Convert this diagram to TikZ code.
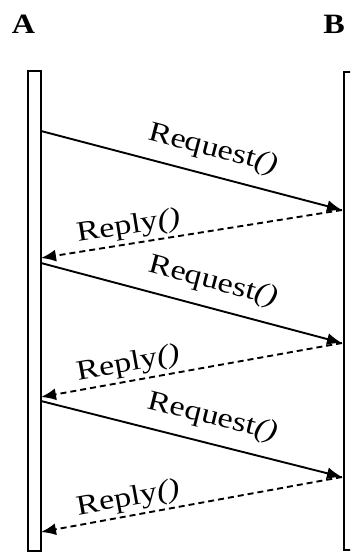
\documentclass[tikz,border=0pt]{standalone}
\usepackage{fontspec}
\setmainfont{Liberation Serif}
\usetikzlibrary{arrows.meta}
\begin{document}
\begin{tikzpicture}[x=1pt,y=-1pt,
  bar/.style={draw=black,line width=2pt,fill=white},
  req/.style={line width=1.9pt,-{Latex[length=15pt,width=12pt]}},
  rep/.style={line width=1.9pt,dash pattern=on 6pt off 4pt,-{Latex[length=15pt,width=12pt]}},
  lbl/.style={sloped,font=\fontsize{28}{28}\selectfont,xscale=1.22,inner sep=0pt},
  head/.style={font=\fontsize{28}{28}\selectfont\bfseries,xscale=1.15}]
\useasboundingbox (0,0) rectangle (350,553);
\clip (0,0) rectangle (350,553);
\node[head] (A) at (23.5,24) {A};
\node[head] (B) at (334,24) {B};
\node[bar,minimum width=13pt,minimum height=480pt,inner sep=0pt] (barA) at (34.5,311) {};
\node[bar,minimum width=13pt,minimum height=478pt,inner sep=0pt,anchor=north west] (barB) at (342.5,71) {};
\coordinate (a1) at (41,131);
\coordinate (b1) at (342,210);
\coordinate (a2) at (41,258);
\coordinate (a3) at (41,263);
\coordinate (b2) at (342,343);
\coordinate (a4) at (41,397);
\coordinate (a5) at (41,401);
\coordinate (b3) at (342,477);
\coordinate (a6) at (41,532);
\draw[req] (a1) -- node[lbl,pos=0.55,above=12pt] {Request\textit{()}} (b1);
\draw[rep] (b1) -- node[lbl,pos=0.70,above=3pt] {Reply\textit{()}} (a2);
\draw[req] (a3) -- node[lbl,pos=0.55,above=12pt] {Request\textit{()}} (b2);
\draw[rep] (b2) -- node[lbl,pos=0.70,above=3pt] {Reply\textit{()}} (a4);
\draw[req] (a5) -- node[lbl,pos=0.55,above=12pt] {Request\textit{()}} (b3);
\draw[rep] (b3) -- node[lbl,pos=0.70,above=3pt] {Reply\textit{()}} (a6);
\end{tikzpicture}
\end{document}
